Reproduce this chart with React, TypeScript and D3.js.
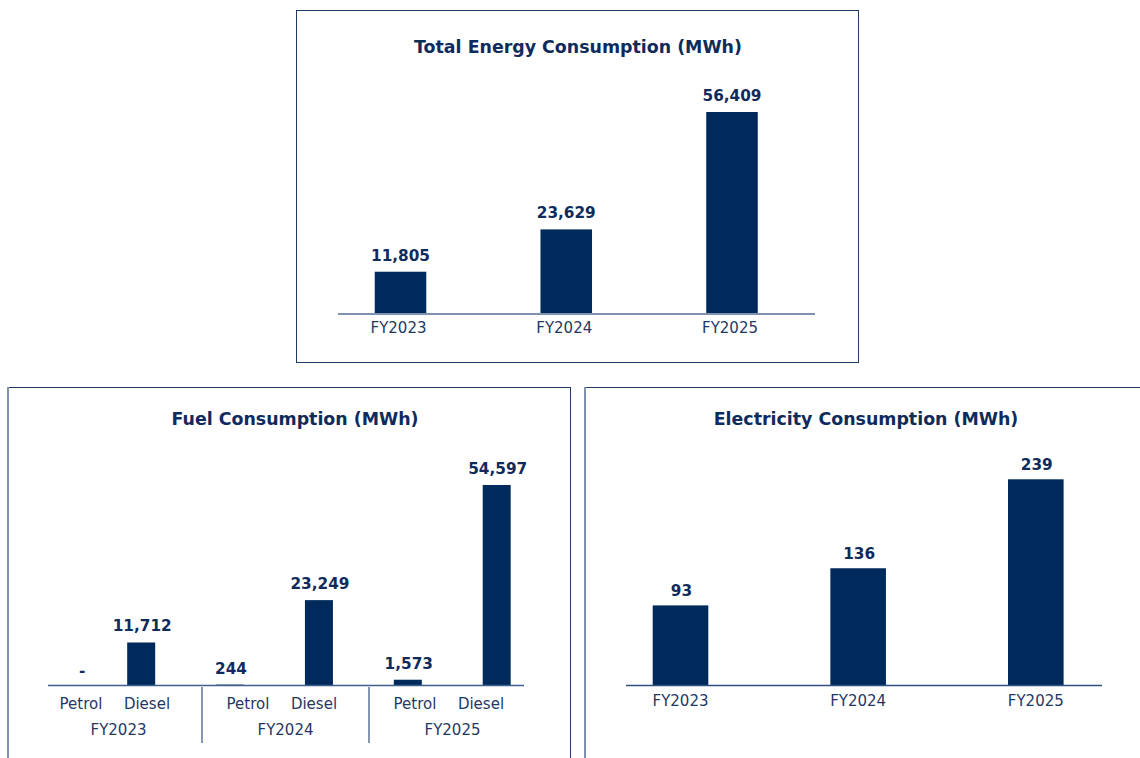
import React from "react";
import * as d3 from "d3";

// ---------- data ----------
const totalYears = ["FY2023", "FY2024", "FY2025"];
const totalValues = [11805, 23629, 56409];

const fuelYears = ["FY2023", "FY2024", "FY2025"];
const fuelTypes = ["Petrol", "Diesel"];
const petrolValues: (number | null)[] = [null, 244, 1573];
const dieselValues = [11712, 23249, 54597];

const elecYears = ["FY2023", "FY2024", "FY2025"];
const elecValues = [93, 136, 239];

const titles = {
  total: "Total Energy Consumption (MWh)",
  fuel: "Fuel Consumption (MWh)",
  elec: "Electricity Consumption (MWh)",
};

// ---------- style ----------
const BAR = "#002a5c";
const TXT = "#0f2b5b";
const CAT = "#1f3864";
const AXIS_LIGHT = "#7f93b0";
const BORDER = "#1f3864";
const FONT = "'DejaVu Sans', Verdana, sans-serif";
const TITLE_SIZE = 17.4;
const fmt = d3.format(",");

function band(domain: string[], c0: number, c1: number, pad: number) {
  const step = (c1 - c0) / (domain.length - 1);
  return d3
    .scaleBand<string>()
    .domain(domain)
    .range([c0 - step / 2, c1 + step / 2])
    .paddingInner(pad)
    .paddingOuter(pad / 2);
}

function TotalChart() {
  const x = band(totalYears, 400.5, 732, 0.689);
  const y = d3.scaleLinear().domain([0, d3.max(totalValues)!]).range([314, 112]);
  return (
    <g>
      <rect x={296.5} y={10.5} width={562} height={352} fill="none" stroke={BORDER} strokeWidth={1} />
      <text x={578} y={53} textAnchor="middle" fontFamily={FONT} fontWeight="bold" fontSize={TITLE_SIZE} fill={TXT}>
        {titles.total}
      </text>
      {totalYears.map((yr, i) => (
        <g key={yr}>
          <rect x={x(yr)} y={y(totalValues[i])} width={x.bandwidth()} height={y(0) - y(totalValues[i])} fill={BAR} />
          <text x={x(yr)! + x.bandwidth() / 2} y={y(totalValues[i]) - 11} textAnchor="middle" fontFamily={FONT} fontWeight="bold" fontSize={15.3} fill={TXT}>
            {fmt(totalValues[i])}
          </text>
          <text x={x(yr)! + x.bandwidth() / 2 - 2} y={333} textAnchor="middle" fontFamily={FONT} fontSize={15} fill={CAT}>
            {yr}
          </text>
        </g>
      ))}
      <line x1={338} x2={815} y1={314} y2={314} stroke={AXIS_LIGHT} strokeWidth={2} />
    </g>
  );
}

function FuelChart() {
  const keys: string[] = [];
  fuelYears.forEach((yr) => fuelTypes.forEach((t) => keys.push(`${yr}|${t}`)));
  const xb = band(keys, 52.3, 496.7, 0.685);
  const g = d3.scaleBand<string>().domain(fuelYears).range([35, 536]);
  const sub = d3.scaleBand<string>().domain(fuelTypes).range([13, 145]);
  const y = d3.scaleLinear().domain([0, d3.max(dieselValues)!]).range([685.5, 485]);
  const rows = fuelYears.flatMap((yr, i) => [
    { key: `${yr}|Petrol`, v: petrolValues[i] },
    { key: `${yr}|Diesel`, v: dieselValues[i] as number | null },
  ]);
  return (
    <g>
      <rect x={8.5} y={387.5} width={562} height={420} fill="none" stroke={BORDER} strokeWidth={1} />
      <line x1={8} x2={8} y1={387} y2={758} stroke={AXIS_LIGHT} strokeWidth={2} />
      <text x={295} y={425} textAnchor="middle" fontFamily={FONT} fontWeight="bold" fontSize={TITLE_SIZE} fill={TXT}>
        {titles.fuel}
      </text>
      {rows.map((r) => {
        const cx = xb(r.key)! + xb.bandwidth() / 2;
        const top = r.v == null ? y(0) : y(r.v);
        return (
          <g key={r.key}>
            {r.v != null && (
              <rect x={xb(r.key)} y={top} width={xb.bandwidth()} height={Math.max(y(0) - top, 1)} fill={BAR} />
            )}
            <text
              x={r.v == null ? cx + 30 : cx + 1}
              y={r.v == null ? top - 10 : top - 11}
              textAnchor="middle"
              fontFamily={FONT}
              fontWeight="bold"
              fontSize={15.3}
              fill={TXT}
            >
              {r.v == null ? "-" : fmt(r.v)}
            </text>
          </g>
        );
      })}
      <line x1={48} x2={524} y1={685.5} y2={685.5} stroke="#3f5f8c" strokeWidth={1.5} />
      {fuelYears.map((yr, i) => (
        <g key={yr}>
          {fuelTypes.map((t) => (
            <text key={t} x={g(yr)! + sub(t)! + sub.bandwidth() / 2} y={709} textAnchor="middle" fontFamily={FONT} fontSize={15} fill={CAT}>
              {t}
            </text>
          ))}
          <text x={g(yr)! + g.bandwidth() / 2} y={735} textAnchor="middle" fontFamily={FONT} fontSize={15} fill={CAT}>
            {yr}
          </text>
          {i > 0 && <line x1={g(yr)} x2={g(yr)} y1={687} y2={743} stroke="#5a7399" strokeWidth={1.5} />}
        </g>
      ))}
    </g>
  );
}

function ElecChart() {
  const x = band(elecYears, 680.5, 1035.8, 0.687);
  const y = d3.scaleLinear().domain([0, d3.max(elecValues)!]).range([685.7, 479.3]);
  return (
    <g>
      <rect x={585.5} y={387.5} width={562} height={420} fill="none" stroke={BORDER} strokeWidth={1} />
      <line x1={585} x2={585} y1={387} y2={758} stroke={AXIS_LIGHT} strokeWidth={2} />
      <text x={866} y={425} textAnchor="middle" fontFamily={FONT} fontWeight="bold" fontSize={TITLE_SIZE} fill={TXT}>
        {titles.elec}
      </text>
      {elecYears.map((yr, i) => (
        <g key={yr}>
          <rect x={x(yr)} y={y(elecValues[i])} width={x.bandwidth()} height={y(0) - y(elecValues[i])} fill={BAR} />
          <text x={x(yr)! + x.bandwidth() / 2 + 1} y={y(elecValues[i]) - 9} textAnchor="middle" fontFamily={FONT} fontWeight="bold" fontSize={15.3} fill={TXT}>
            {fmt(elecValues[i])}
          </text>
          <text x={x(yr)! + x.bandwidth() / 2} y={706} textAnchor="middle" fontFamily={FONT} fontSize={15} fill={CAT}>
            {yr}
          </text>
        </g>
      ))}
      <line x1={626} x2={1102} y1={685.5} y2={685.5} stroke="#2f4f7f" strokeWidth={1.5} />
    </g>
  );
}

export default function App() {
  return (
    <svg
      width={1140}
      height={758}
      viewBox="0 0 1140 758"
      style={{ position: "absolute", left: 0, top: 0, display: "block", background: "#ffffff" }}
    >
      <rect x={0} y={0} width={1140} height={758} fill="#ffffff" />
      <TotalChart />
      <FuelChart />
      <ElecChart />
    </svg>
  );
}
